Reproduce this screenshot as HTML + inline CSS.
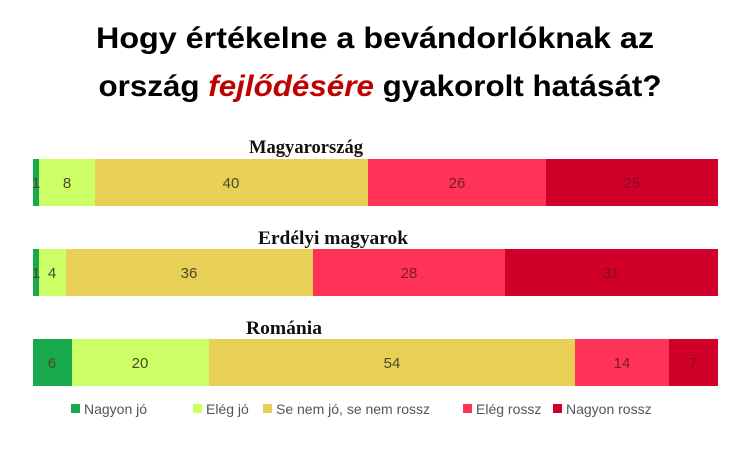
<!DOCTYPE html>
<html><head><meta charset="utf-8"><style>body{margin:0;background:#fff}svg{display:block}</style></head><body>
<svg width="750" height="467" viewBox="0 0 750 467" xmlns="http://www.w3.org/2000/svg">
<g font-family="Liberation Sans, sans-serif" font-weight="bold" font-size="30" fill="#000" text-anchor="middle">
<text x="375" y="48" textLength="558" lengthAdjust="spacingAndGlyphs">Hogy értékelne a bevándorlóknak az</text>
<text x="380" y="96" textLength="563" lengthAdjust="spacingAndGlyphs">ország <tspan fill="#c00000" font-style="italic">fejlődésére</tspan> gyakorolt hatását?</text>
</g>
<g font-family="Liberation Serif, serif" font-weight="bold" font-size="19" text-anchor="middle" fill="#111">
<text x="306" y="153" textLength="114" lengthAdjust="spacingAndGlyphs">Magyarország</text>
<text x="333" y="244" textLength="150" lengthAdjust="spacingAndGlyphs">Erdélyi magyarok</text>
<text x="284" y="334" textLength="76" lengthAdjust="spacingAndGlyphs">Románia</text>
</g>
<g>
<rect x="33" y="159" width="6" height="47" fill="#17a94b"/>
<rect x="39" y="159" width="56" height="47" fill="#ccff66"/>
<rect x="95" y="159" width="273" height="47" fill="#e8cf55"/>
<rect x="368" y="159" width="178" height="47" fill="#ff3358"/>
<rect x="546" y="159" width="172" height="47" fill="#d1002a"/>
<rect x="33" y="249" width="6" height="47" fill="#17a94b"/>
<rect x="39" y="249" width="27" height="47" fill="#ccff66"/>
<rect x="66" y="249" width="247" height="47" fill="#e8cf55"/>
<rect x="313" y="249" width="192" height="47" fill="#ff3358"/>
<rect x="505" y="249" width="213" height="47" fill="#d1002a"/>
<rect x="33" y="339" width="39" height="47" fill="#17a94b"/>
<rect x="72" y="339" width="137" height="47" fill="#ccff66"/>
<rect x="209" y="339" width="366" height="47" fill="#e8cf55"/>
<rect x="575" y="339" width="94" height="47" fill="#ff3358"/>
<rect x="669" y="339" width="49" height="47" fill="#d1002a"/>
</g>
<g font-family="Liberation Sans, sans-serif" font-size="15" text-anchor="middle" fill="#4a4a2a">
<text x="36" y="188">1</text><text x="67" y="188">8</text><text x="231" y="188">40</text>
<text x="457" y="188" fill="#7a1a2a">26</text><text x="632" y="188" fill="#8a0a20">25</text>
<text x="36" y="278">1</text><text x="52" y="278">4</text><text x="189" y="278">36</text>
<text x="409" y="278" fill="#7a1a2a">28</text><text x="611" y="278" fill="#8a0a20">31</text>
<text x="52" y="368">6</text><text x="140" y="368">20</text><text x="392" y="368">54</text>
<text x="622" y="368" fill="#7a1a2a">14</text><text x="693" y="368" fill="#8a0a20">7</text>
</g>
<g font-family="Liberation Sans, sans-serif" font-size="14" fill="#555">
<rect x="71" y="404" width="9" height="9" fill="#17a94b"/><text x="84" y="414">Nagyon jó</text>
<rect x="193" y="404" width="9" height="9" fill="#ccff66"/><text x="206" y="414">Elég jó</text>
<rect x="263" y="404" width="9" height="9" fill="#e8cf55"/><text x="276" y="414">Se nem jó, se nem rossz</text>
<rect x="463" y="404" width="9" height="9" fill="#ff3358"/><text x="476" y="414">Elég rossz</text>
<rect x="553" y="404" width="9" height="9" fill="#d1002a"/><text x="566" y="414">Nagyon rossz</text>
</g>
</svg>
</body></html>
